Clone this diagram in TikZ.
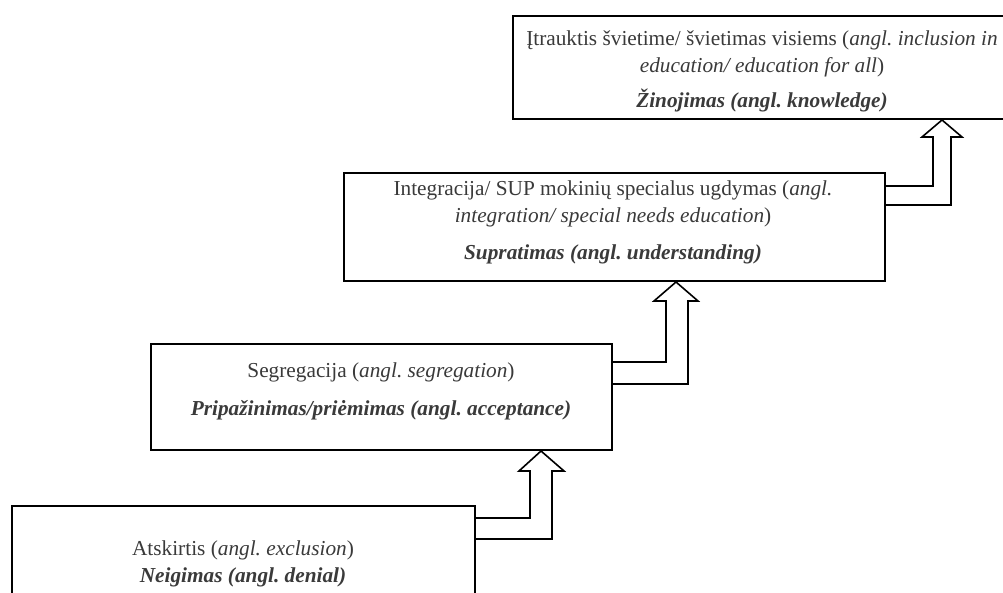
\documentclass[tikz,border=0pt]{standalone}
\usepackage{fontspec}
\setmainfont{Liberation Serif}
\frenchspacing
\definecolor{txt}{HTML}{3A3A3A}
\begin{document}
\frenchspacing
\begin{tikzpicture}[x=1pt,y=-1pt,
  box/.style={draw=black,line width=2pt,fill=white,inner sep=0pt,anchor=north west},
  arr/.style={draw=black,line width=1.6pt,fill=white,line join=miter},
  lbl/.style={text=txt,font=\fontsize{21.3}{27.5}\selectfont,align=center,inner sep=0pt}]
\useasboundingbox (0,0) rectangle (1003,593);
\clip (0,0) rectangle (1003,593);
% boxes
\node[box,minimum width=500pt,minimum height=103pt] (b1) at (512,15) {};
\node[box,minimum width=541pt,minimum height=108pt] (b2) at (343,172) {};
\node[box,minimum width=461pt,minimum height=106pt] (b3) at (150,343) {};
\node[box,minimum width=463pt,minimum height=120pt] (b4) at (11,505) {};
% texts
\node[lbl] (t1a) at (762,54) {Įtrauktis švietime/ švietimas visiems (\textit{angl. inclusion in}\\\textit{education/ education for all})};
\node[lbl] (t1b) at (762,101) {\textbf{\textit{Žinojimas (angl. knowledge)}}};
\node[lbl] (t2a) at (613,204) {Integracija/ SUP mokinių specialus ugdymas (\textit{angl.}\\\textit{integration/ special needs education})};
\node[lbl] (t2b) at (613,254) {\textbf{\textit{Supratimas (angl. understanding)}}};
\node[lbl] (t3a) at (381,372) {Segregacija (\textit{angl. segregation})};
\node[lbl] (t3b) at (381,410) {\textbf{\textit{Pripažinimas/priėmimas (angl. acceptance)}}};
\node[lbl] (t4a) at (243,550) {Atskirtis (\textit{angl. exclusion})};
\node[lbl] (t4b) at (243,577) {\textbf{\textit{Neigimas (angl. denial)}}};
% arrows
\coordinate (p1) at (b1.south -| 942,0);
\coordinate (p2) at (b2.south -| 676,0);
\coordinate (p3) at (b3.south -| 541,0);
\draw[arr] (b2.east |- 0,186) -- (933,186) -- (933,137) -- (922,137) -- (p1) -- (962,137) -- (951,137) -- (951,205) -- (b2.east |- 0,205);
\draw[arr] (b3.east |- 0,362) -- (666,362) -- (666,301) -- (654,301) -- (p2) -- (698,301) -- (688,301) -- (688,384) -- (b3.east |- 0,384);
\draw[arr] (b4.east |- 0,518) -- (530,518) -- (530,471) -- (519,471) -- (p3) -- (564,471) -- (552,471) -- (552,539) -- (b4.east |- 0,539);
\end{tikzpicture}
\end{document}
